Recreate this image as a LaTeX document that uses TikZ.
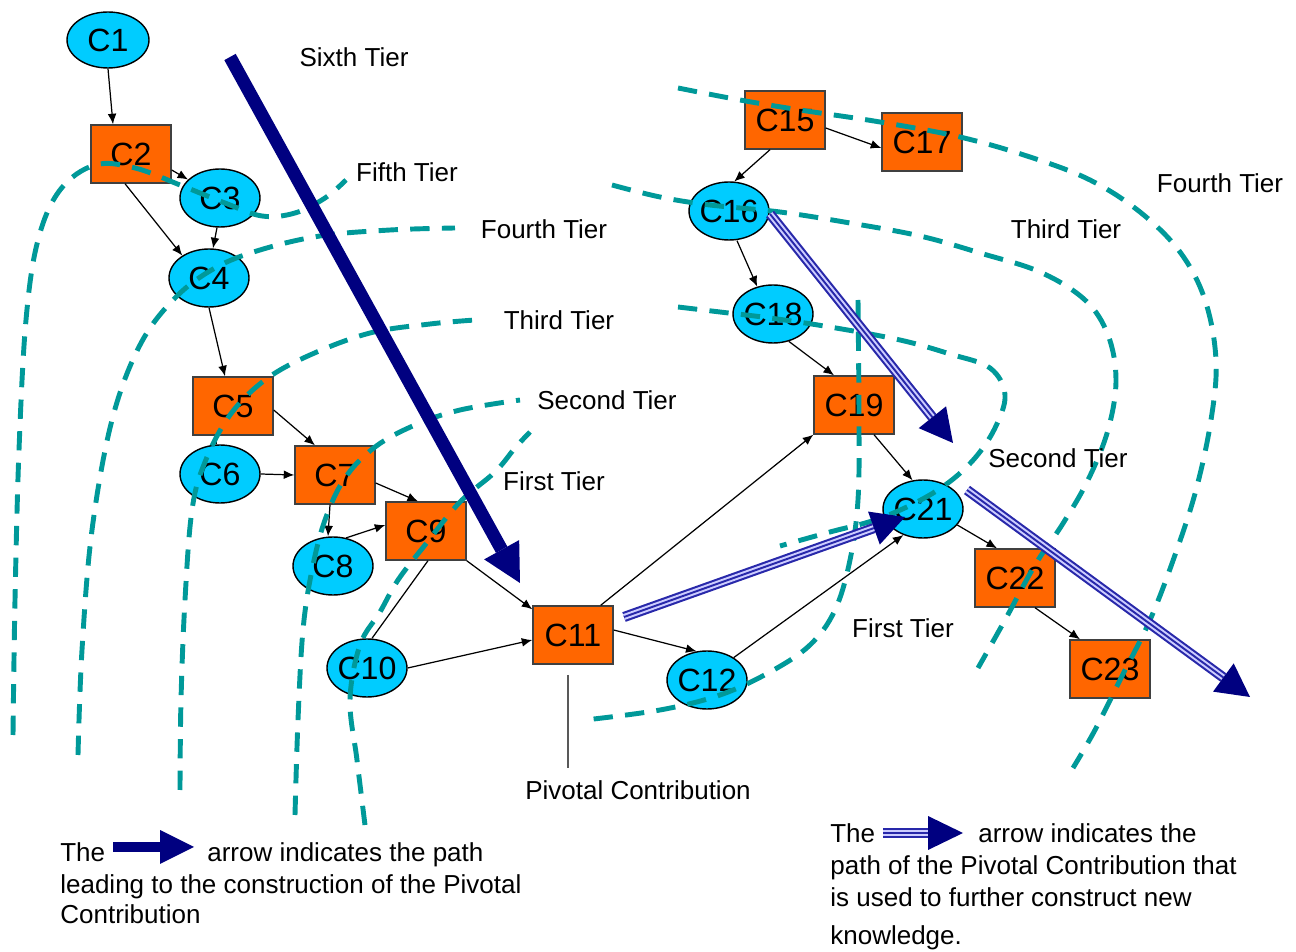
\documentclass[tikz,border=0pt]{standalone}
\usepackage{fontspec}
\setmainfont{Liberation Sans}
\usetikzlibrary{calc,arrows.meta,shapes.geometric}
\definecolor{navyc}{RGB}{0,0,128}
\definecolor{tealc}{RGB}{0,153,153}
\definecolor{orangec}{RGB}{255,102,0}
\definecolor{cyanc}{RGB}{0,204,255}
\definecolor{tripo}{RGB}{40,40,170}
\definecolor{tripi}{RGB}{205,205,255}
\newcommand\cnfont{\fontsize{18.3}{21}\selectfont}
\newcommand\tlfont{\fontsize{14.8}{17.6}\selectfont}
\newcommand\ctext[1]{\makebox[0.8cm]{#1}}
% solid navy arrow: #1 start, #2 tip, #3 head length, #4 half width, #5 shaft width, #6 name
\newcommand\solidarrow[6]{%
  \coordinate (#6b) at ($(#2)!#3!(#1)$);
  \draw[navyc, line width=#5] (#1) -- (#6b);
  \fill[navyc] (#2) -- ($(#6b)!#4!90:(#2)$) -- ($(#6b)!#4!-90:(#2)$) -- cycle;}
% triple-line arrow
\newcommand\triplearrow[5]{%
  \coordinate (#5b) at ($(#2)!#3!(#1)$);
  \draw[tripo, line width=5.8pt] (#1) -- (#5b);
  \draw[tripi, line width=3.4pt] (#1) -- (#5b);
  \draw[tripo, line width=1.1pt] (#1) -- (#5b);
  \fill[navyc] (#2) -- ($(#5b)!#4!90:(#2)$) -- ($(#5b)!#4!-90:(#2)$) -- cycle;}
\begin{document}
\begin{tikzpicture}[x=0.02cm,y=-0.02cm,
  cbox/.style={rectangle, draw=black!75, fill=orangec, line width=0.8pt,
    minimum width=1.6cm, minimum height=1.16cm, inner sep=0pt, font=\cnfont},
  cell/.style={ellipse, draw=black, fill=cyanc, line width=0.8pt,
    minimum width=1.6cm, minimum height=1.16cm, inner sep=0pt, font=\cnfont},
  tier/.style={font=\tlfont, inner sep=0pt},
  legend/.style={font=\tlfont, inner sep=0pt, anchor=base west},
  link/.style={-{Latex[length=6pt,width=5pt]}, line width=0.7pt},
  plain/.style={line width=0.7pt},
  tealdash/.style={tealc, line width=2.8pt, dash pattern=on 11pt off 7pt},
]
\useasboundingbox (0,0) rectangle (1296,952);

% ---------- nodes ----------
\node[cell, minimum height=1.12cm, minimum width=1.64cm] (C1) at (108,40) {\ctext{C1}};
\node[cbox] (C2) at (131,154) {C2};
\node[cell] (C3) at (220,198) {\ctext{C3}};
\node[cell] (C4) at (209,278) {\ctext{C4}};
\node[cbox] (C5) at (233,406) {C5};
\node[cell] (C6) at (220,474) {\ctext{C6}};
\node[cbox] (C7) at (335,475) {C7};
\node[cell] (C8) at (333,566) {\ctext{C8}};
\node[cbox] (C9) at (426,531) {C9};
\node[cell] (C10) at (367,668) {\ctext{C10}};
\node[cbox] (C11) at (573,635) {C11};
\node[cell] (C12) at (707,680) {\ctext{C12}};
\node[cbox] (C15) at (785,120) {C15};
\node[cbox] (C17) at (922,142) {C17};
\node[cell] (C16) at (729,211) {\ctext{C16}};
\node[cell] (C18) at (773,314) {\ctext{C18}};
\node[cbox] (C19) at (854,405) {C19};
\node[cell] (C21) at (923,509) {\ctext{C21}};
\node[cbox] (C22) at (1015,578) {C22};
\node[cbox] (C23) at (1110,669) {C23};

% ---------- thin connectors ----------
\draw[link] (C1.south) -- ($(C2.north)+(-18,0)$);
\draw[link] ($(C2.east)+(0,16)$) -- (C3.150);
\draw[link] ($(C2.south)+(-6,0)$) -- (C4.140);
\draw[link] ($(C3.south)+(-3,0)$) -- ($(C4.north)+(4,0)$);
\draw[link] (C4.south) -- ($(C5.north)+(-8,0)$);
\draw[plain] ($(C5.south)+(-17,0)$) -- ($(C6.north)+(-4,0)$);
\draw[link] ($(C5.east)+(0,4)$) -- ($(C7.north)+(-20,0)$);
\draw[link] (C6.east) -- (C7.west);
\draw[link] ($(C7.east)+(0,8)$) -- ($(C9.north)+(-8,0)$);
\draw[link] ($(C7.south)+(-5,0)$) -- ($(C8.north)+(-5,0)$);
\draw[link] (C8.65) -- ($(C9.west)+(0,-6)$);
\draw[plain] ($(C9.south)+(2,0)$) -- ($(C10.north)+(5,0)$);
\draw[link] (C9.south east) -- ($(C11.north west)+(0,4)$);
\draw[link] (C10.east) -- ($(C11.west)+(0,5)$);
\draw[link] ($(C11.east)+(0,-5)$) -- (C12.110);
\draw[link] ($(C11.north east)+(-13,0)$) -- (C19.south west);
\draw[link] (C12.40) -- (C21.233);
\draw[link] ($(C15.south)+(-15,0)$) -- (C16.80);
\draw[link] ($(C15.east)+(0,8)$) -- ($(C17.west)+(0,6)$);
\draw[link] ($(C16.south)+(8,0)$) -- (C18.120);
\draw[link] (C18.300) -- ($(C19.north)+(-20,0)$);
\draw[link] ($(C19.south)+(20,0)$) -- (C21.110);
\draw[link] (C21.-25) -- ($(C22.north)+(-18,0)$);
\draw[link] ($(C22.south)+(20,0)$) -- ($(C23.north)+(-30,0)$);

% ---------- pivotal contribution ----------
\node[tier] (piv) at (638,790) {Pivotal Contribution};
\coordinate (pvtop) at (568,675);
\coordinate (pvbot) at (568,768);
\draw[black!65, line width=1.1pt] (pvtop) -- (pvbot);

% ---------- tier curves ----------
\draw[tealdash] plot[smooth, tension=0.6] coordinates {(13,735) (15,600) (19,450) (26,320) (38,240) (60,190) (95,165) (135,168) (180,185) (225,203) (262,216) (295,213) (325,198) (346,180)};
\draw[tealdash] plot[smooth, tension=0.6] coordinates {(78,755) (82,650) (92,530) (112,420) (140,345) (175,298) (215,268) (260,250) (320,236) (390,230) (455,228)};
\draw[tealdash] plot[smooth, tension=0.6] coordinates {(180,790) (181,700) (185,600) (192,510) (205,462) (230,415) (265,380) (310,355) (370,333) (430,324) (475,320)};
\draw[tealdash] plot[smooth, tension=0.6] coordinates {(295,815) (298,720) (303,630) (312,570) (325,520) (345,478) (375,447) (415,425) (460,410) (520,400)};
\draw[tealdash] plot[smooth, tension=0.6] coordinates {(365,825) (357,760) (350,700) (360,645) (380,612) (398,580) (425,545) (460,502) (495,472) (515,448) (530,432)};
\draw[tealdash] plot[smooth, tension=0.6] coordinates {(858,300) (859,420) (858,500) (850,560) (835,610) (810,645) (770,672) (720,695) (660,710) (585,720)};
\draw[tealdash] plot[smooth, tension=0.6] coordinates {(678,307) (720,312) (770,318) (830,327) (900,340) (950,354) (990,368) (1005,395) (995,428) (975,458) (948,483) (915,503) (875,520) (830,532) (780,546)};
\draw[tealdash] plot[smooth, tension=0.6] coordinates {(612,185) (660,197) (710,205) (780,212) (850,223) (920,236) (980,253) (1040,272) (1085,300) (1108,335) (1116,380) (1108,430) (1088,480) (1062,525) (1035,565) (1005,620) (978,668)};
\draw[tealdash] plot[smooth, tension=0.6] coordinates {(678,88) (740,100) (800,110) (880,122) (960,137) (1030,157) (1090,180) (1140,212) (1180,252) (1205,300) (1216,360) (1211,420) (1196,490) (1175,555) (1150,620) (1120,680) (1095,730) (1073,768)};

% ---------- tier labels ----------
\node[tier] (t6) at (354,57) {Sixth Tier};
\node[tier] (t5) at (407,172) {Fifth Tier};
\node[tier] (t4) at (544,229) {Fourth Tier};
\node[tier] (t3) at (559,320) {Third Tier};
\node[tier] (t2) at (607,400) {Second Tier};
\node[tier] (t1) at (554,481) {First Tier};
\node[tier] (r4) at (1220,183) {Fourth Tier};
\node[tier] (r3) at (1066,229) {Third Tier};
\node[tier] (r2) at (1058,458) {Second Tier};
\node[tier] (r1) at (903,628) {First Tier};

% ---------- navy arrows ----------
\coordinate (bigS) at (230,57);
\coordinate (bigT) at (520,583);
\solidarrow{bigS}{bigT}{0.76cm}{0.4cm}{7.4pt}{big}

\coordinate (ta) at (770,214);
\coordinate (tb) at (953,443);
\triplearrow{ta}{tb}{0.66cm}{0.35cm}{tab}
\coordinate (tc) at (624,617);
\coordinate (td) at (905,517);
\triplearrow{tc}{td}{0.66cm}{0.35cm}{tcd}
\coordinate (te) at (967,490);
\coordinate (tf) at (1250,697);
\triplearrow{te}{tf}{0.66cm}{0.35cm}{tef}

% ---------- legends ----------
\node[legend] (l1a) at (60,862) {The};
\coordinate (lgS) at (113,847);
\coordinate (lgT) at (194,847);
\solidarrow{lgS}{lgT}{0.68cm}{0.34cm}{6.2pt}{lg}
\node[legend] (l1b) at (207,862) {arrow indicates the path};
\node[legend] (l2) at (60,893) {leading to the construction of the Pivotal};
\node[legend] (l3) at (60,924) {Contribution};

\node[legend] (r1a) at (830,843) {The};
\coordinate (rgS) at (883,833);
\coordinate (rgT) at (963,833);
\triplearrow{rgS}{rgT}{0.7cm}{0.34cm}{rg}
\node[legend] (r1b) at (978,843) {arrow indicates the};
\node[legend] (r2l) at (830,875) {path of the Pivotal Contribution that};
\node[legend] (r3l) at (830,907) {is used to further construct new};
\node[legend] (r4l) at (830,945) {knowledge.};
\end{tikzpicture}
\end{document}
